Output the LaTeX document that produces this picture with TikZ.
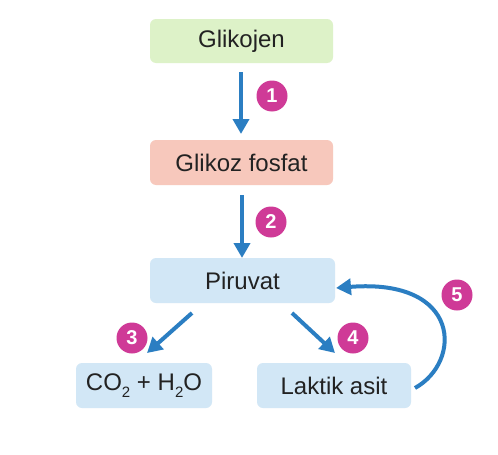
\documentclass[tikz,border=0pt]{standalone}
\usepackage{fontspec}
\setmainfont{Liberation Sans}
\usetikzlibrary{arrows.meta}
\definecolor{boxgreen}{HTML}{DDF2C8}
\definecolor{boxpink}{HTML}{F7C8BC}
\definecolor{boxblue}{HTML}{D2E7F6}
\definecolor{arrblue}{HTML}{2B7EC2}
\definecolor{badge}{HTML}{CF3A97}
\definecolor{txt}{HTML}{222222}
\newcommand{\chemsub}[1]{\raisebox{-0.3em}{\fontsize{15}{16}\selectfont #1}}
\begin{document}
\begin{tikzpicture}[x=1pt,y=-1pt,
  stepbox/.style={inner sep=0pt, text=txt, font=\fontsize{24}{26}\selectfont},
  flow/.style={draw=arrblue, line width=4pt, -{Triangle[length=15pt,width=16pt]}},
  badgenode/.style={circle, fill=badge, minimum size=31pt, inner sep=0pt, text=white, font=\bfseries\fontsize{20}{20}\selectfont}]
\useasboundingbox (0,0) rectangle (498,455);
\fill[white] (0,0) rectangle (498,455);
% boxes
\fill[boxgreen, rounded corners=6pt] (150,19) rectangle (333,63);
\node[stepbox] (glik) at (241.5,41) {Glikojen};
\fill[boxpink, rounded corners=6pt] (150,140) rectangle (333,185);
\node[stepbox] (fosf) at (241.5,162.5) {Glikoz fosfat};
\fill[boxblue, rounded corners=6pt] (150,258) rectangle (335,303);
\node[stepbox] (piru) at (242.5,280.5) {Piruvat};
\fill[boxblue, rounded corners=6pt] (76,363) rectangle (212,408);
\node[stepbox] (co2) at (144,385.5) {CO\chemsub{2} + H\chemsub{2}O};
\fill[boxblue, rounded corners=6pt] (257,363) rectangle (411,408);
\node[stepbox] (lakt) at (334,385.5) {Laktik asit};
% anchor coordinates
\coordinate (a1s) at (241,72);
\coordinate (a1e) at (241,134);
\coordinate (a2s) at (242,195);
\coordinate (a2e) at (242,258);
\coordinate (a3s) at (192,313);
\coordinate (a3e) at (147,353);
\coordinate (a4s) at (292,313);
\coordinate (a4e) at (335,353);
\coordinate (a5s) at (415,388);
\coordinate (a5e) at (336,288);
% arrows
\draw[flow] (a1s) -- (a1e);
\draw[flow] (a2s) -- (a2e);
\draw[flow] (a3s) -- (a3e);
\draw[flow] (a4s) -- (a4e);
\draw[flow] (a5s) .. controls (462,362) and (462,278) .. (a5e);
% badges
\node[badgenode] (b1) at (272,96) {1};
\node[badgenode] (b2) at (271,222) {2};
\node[badgenode] (b3) at (132,338) {3};
\node[badgenode] (b4) at (353,338) {4};
\node[badgenode] (b5) at (457,295) {5};
\end{tikzpicture}
\end{document}
